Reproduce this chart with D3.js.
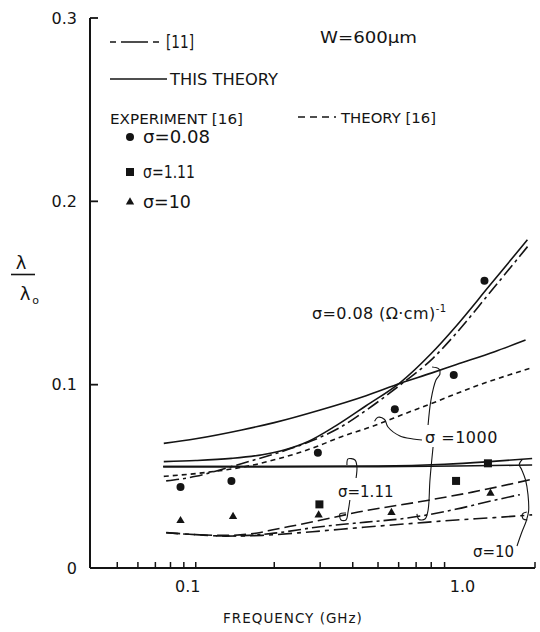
<!DOCTYPE html>
<html>
<head>
<meta charset="utf-8">
<script src="https://cdn.jsdelivr.net/npm/d3@7"></script>
<style>
  html, body { margin: 0; padding: 0; background: #fff; }
  svg { display: block; }
  text { font-family: "DejaVu Sans", sans-serif; fill: #141414; }
</style>
</head>
<body>
<svg id="chart" width="540" height="632"></svg>
<script>
// ---- axis ticks -------------------------------------------------------
const freqTicks = [0.05, 0.06, 0.07, 0.08, 0.09, 0.1, 0.2, 0.3, 0.4, 0.5, 0.6, 0.7, 0.8, 0.9, 2];
const freqLabelValues = [0.1, 1.0];
const freqLabelText = ["0.1", "1.0"];
const ratioTicks = [0.1, 0.2, 0.3];
const ratioLabelValues = [0, 0.1, 0.2, 0.3];
const ratioLabelText = ["0", "0.1", "0.2", "0.3"];

// ---- theory curves: [frequency GHz, lambda/lambda0] -------------------
// sigma = 0.08 (ohm cm)^-1
const s008ThisTheory = [[0.0754,0.058],[0.1,0.0586],[0.137,0.0598],[0.18,0.0618],[0.22,0.0645],[0.27,0.069],[0.344,0.0775],[0.45,0.0885],[0.61,0.1013],[0.8,0.117],[0.99,0.1315],[1.33,0.1535],[1.87,0.179]];
const s008Ref11 = [[0.077,0.0475],[0.1,0.050],[0.119,0.0528],[0.137,0.0553],[0.17,0.0592],[0.214,0.0635],[0.28,0.0695],[0.353,0.0762],[0.45,0.086],[0.61,0.1],[0.8,0.1135],[0.99,0.1275],[1.33,0.1495],[1.89,0.176]];
// sigma = 1000
const s1000ThisTheory = [[0.0754,0.068],[0.1,0.0705],[0.15,0.0753],[0.2,0.0793],[0.3,0.0862],[0.45,0.094],[0.61,0.1008],[0.8,0.1063],[1.0,0.111],[1.4,0.118],[1.84,0.1243]];
const s1000Theory16 = [[0.0754,0.050],[0.1,0.0515],[0.137,0.054],[0.17,0.0565],[0.2,0.059],[0.25,0.063],[0.3,0.067],[0.36,0.0715],[0.47,0.077],[0.64,0.0844],[0.855,0.0913],[1.15,0.0985],[1.92,0.109]];
const s1000Ref11 = [[0.12,0.0175],[0.16,0.0178],[0.2,0.019],[0.3,0.0225],[0.45,0.025],[0.637,0.0271],[0.99,0.032],[1.37,0.0367],[1.75,0.040]];
// sigma = 1.11
const s111ThisTheory = [[0.075,0.0553],[0.2,0.0553],[0.5,0.0556],[0.9,0.0566],[1.3,0.0579],[1.95,0.0597]];
const s111Ref11 = [[0.077,0.0192],[0.1,0.0182],[0.13,0.0178],[0.17,0.019],[0.2,0.021],[0.3,0.026],[0.42,0.0305],[0.74,0.0364],[1.15,0.0414],[1.95,0.0484]];
// sigma = 10
const s10ThisTheory = [[0.075,0.0553],[0.5,0.0553],[1.0,0.0556],[1.95,0.0562]];
const s10Ref11 = [[0.077,0.0193],[0.1,0.0182],[0.13,0.0174],[0.18,0.0178],[0.28,0.0198],[0.44,0.0222],[0.7,0.0245],[1.0,0.0262],[1.4,0.0275],[1.95,0.029]];

// ---- experiment [16] ---------------------------------------------------
const expS008 = [[0.0874,0.0442],[0.137,0.0475],[0.294,0.0629],[0.58,0.0866],[0.976,0.1053],[1.28,0.1567]];
const expS111 = [[0.298,0.0347],[0.996,0.0475],[1.32,0.0571]];
const expS10  = [[0.0874,0.0258],[0.139,0.028],[0.296,0.0289],[0.563,0.0302],[1.35,0.0407]];

// ---- leader lines for the curve labels (data units) -------------------
const leader1000a = [[0.737,0.0698],[0.681,0.0704],[0.607,0.072],[0.546,0.0769],[0.53,0.081],[0.50,0.0822],[0.485,0.080]];
const leader1000b = [[0.778,0.078],[0.798,0.0916],[0.834,0.1025],[0.864,0.1058],[0.857,0.1085],[0.806,0.1096]];
const leader1000c = [[0.813,0.066],[0.791,0.048],[0.778,0.0316],[0.757,0.0267],[0.718,0.0265],[0.705,0.0295]];
const leader111a = [[0.412,0.0491],[0.415,0.0551],[0.408,0.0589],[0.3836,0.0595],[0.380,0.0562]];
const leader111b = [[0.390,0.0371],[0.3836,0.0305],[0.3769,0.0262],[0.3606,0.0262],[0.3574,0.0295],[0.3769,0.030]];
const leader10 = [[1.706,0.012],[1.78,0.0195],[1.85,0.0255],[1.89,0.031],[1.88,0.040],[1.84,0.048],[1.78,0.0535],[1.74,0.0565],[1.79,0.0592]];
const leader10hook = [[1.87,0.0262],[1.80,0.0268],[1.79,0.0295],[1.86,0.0305]];

// ---- scales -------------------------------------------------------------
const x = d3.scaleLog().domain([0.04, 2]).range([92, 535]);
const y = d3.scaleLinear().domain([0, 0.3]).range([568, 18]);
const yAxisX = 90;

const svg = d3.select("#chart");
const ink = "#141414";

// ---- axes ---------------------------------------------------------------
const axes = svg.append("g").attr("stroke", ink).attr("fill", "none");
axes.append("line").attr("x1", yAxisX).attr("x2", x(2)).attr("y1", y(0)).attr("y2", y(0)).attr("stroke-width", 2);
axes.append("line").attr("x1", yAxisX).attr("x2", yAxisX).attr("y1", y(0)).attr("y2", y(0.3)).attr("stroke-width", 2);
axes.selectAll(".xt").data(freqTicks).join("line")
  .attr("x1", d => x(d)).attr("x2", d => x(d))
  .attr("y1", y(0)).attr("y2", y(0) - 6).attr("stroke-width", 1.5);
axes.selectAll(".yt").data(ratioTicks).join("line")
  .attr("x1", yAxisX).attr("x2", yAxisX + 8)
  .attr("y1", d => y(d)).attr("y2", d => y(d)).attr("stroke-width", 1.8);

svg.selectAll(".xl").data(freqLabelValues).join("text")
  .attr("x", d => x(d)).attr("dx", (d, i) => i === 0 ? -8 : 6)
  .attr("y", 592).attr("text-anchor", "middle")
  .attr("font-size", 16).text((d, i) => freqLabelText[i]);
svg.selectAll(".yl").data(ratioLabelValues).join("text")
  .attr("x", 77).attr("y", d => y(d)).attr("dy", "0.36em")
  .attr("text-anchor", "end").attr("font-size", 16).text((d, i) => ratioLabelText[i]);

svg.append("text").attr("x", 293).attr("y", 623).attr("text-anchor", "middle")
  .attr("font-size", 13.5).attr("letter-spacing", 1).text("FREQUENCY  (GHz)");

// y title: lambda over lambda0
const yt = svg.append("g");
yt.append("text").attr("x", 21).attr("y", 269).attr("text-anchor", "middle").attr("font-size", 18).text("λ");
yt.append("line").attr("x1", 11).attr("x2", 35).attr("y1", 274.5).attr("y2", 274.5).attr("stroke", ink).attr("stroke-width", 1.6);
yt.append("text").attr("x", 25).attr("y", 300).attr("text-anchor", "middle").attr("font-size", 18).text("λ");
yt.append("text").attr("x", 35.5).attr("y", 304).attr("text-anchor", "middle").attr("font-size", 11).text("o");

// ---- curves -------------------------------------------------------------
const line = d3.line().x(d => x(d[0])).y(d => y(d[1])).curve(d3.curveMonotoneX);
const dashRef11 = "13,4,3,4";
const dashTheory16 = "5,4";
const curves = [
  { data: s1000ThisTheory, dash: null },
  { data: s008ThisTheory, dash: null },
  { data: s111ThisTheory, dash: null },
  { data: s10ThisTheory, dash: null },
  { data: s008Ref11, dash: dashRef11 },
  { data: s1000Theory16, dash: dashTheory16 },
  { data: s111Ref11, dash: "12,5" },
  { data: s1000Ref11, dash: dashRef11 },
  { data: s10Ref11, dash: "14,5,4,5" }
];
svg.append("g").selectAll("path").data(curves).join("path")
  .attr("d", d => line(d.data))
  .attr("fill", "none").attr("stroke", ink).attr("stroke-width", 1.6)
  .attr("stroke-dasharray", d => d.dash);

// ---- leaders --------------------------------------------------------------
const leaderLine = d3.line().x(d => x(d[0])).y(d => y(d[1])).curve(d3.curveCatmullRom.alpha(0.5));
svg.append("g").selectAll("path")
  .data([leader1000a, leader1000b, leader1000c, leader111a, leader111b, leader10, leader10hook])
  .join("path").attr("d", leaderLine)
  .attr("fill", "none").attr("stroke", ink).attr("stroke-width", 1.1);

// ---- experiment markers -------------------------------------------------
const marks = svg.append("g").attr("fill", ink);
marks.selectAll(".c").data(expS008).join("circle")
  .attr("cx", d => x(d[0])).attr("cy", d => y(d[1])).attr("r", 4);
marks.selectAll(".s").data(expS111).join("rect")
  .attr("x", d => x(d[0]) - 4).attr("y", d => y(d[1]) - 4).attr("width", 8).attr("height", 8);
const tri = d3.symbol(d3.symbolTriangle, 30);
marks.selectAll(".t").data(expS10).join("path")
  .attr("transform", d => `translate(${x(d[0])},${y(d[1])})`).attr("d", tri);

// ---- curve labels -------------------------------------------------------
const lab = svg.append("g").attr("font-size", 16);
const t008 = lab.append("text").attr("x", 312).attr("y", 319).attr("letter-spacing", 0.4);
t008.append("tspan").text("σ=0.08 (Ω·cm)");
t008.append("tspan").attr("font-size", 10).attr("dy", -7).text("-1");
lab.append("text").attr("x", 425).attr("y", 443).attr("letter-spacing", 0.5).text("σ =1000");
lab.append("text").attr("x", 338).attr("y", 497).attr("font-size", 15).text("σ=1.11");
lab.append("text").attr("x", 473).attr("y", 557).attr("font-size", 15).text("σ=10");

// ---- legend -------------------------------------------------------------
const lg = svg.append("g");
lg.append("line").attr("x1", 110).attr("x2", 163).attr("y1", 42).attr("y2", 42)
  .attr("stroke", ink).attr("stroke-width", 1.6).attr("stroke-dasharray", "6,5,27,5,6");
lg.append("text").attr("x", 166).attr("y", 48).attr("font-size", 17)
  .attr("textLength", 28).attr("lengthAdjust", "spacingAndGlyphs").text("[11]");
lg.append("line").attr("x1", 110).attr("x2", 167).attr("y1", 79).attr("y2", 79)
  .attr("stroke", ink).attr("stroke-width", 1.6);
lg.append("text").attr("x", 170).attr("y", 85).attr("font-size", 16)
  .attr("textLength", 108).attr("lengthAdjust", "spacingAndGlyphs").text("THIS THEORY");
lg.append("text").attr("x", 110).attr("y", 124).attr("font-size", 14.5)
  .attr("textLength", 133).attr("lengthAdjust", "spacingAndGlyphs").text("EXPERIMENT [16]");
lg.append("circle").attr("cx", 130).attr("cy", 137).attr("r", 4).attr("fill", ink);
lg.append("rect").attr("x", 126).attr("y", 168).attr("width", 8).attr("height", 8).attr("fill", ink);
lg.append("path").attr("transform", "translate(130,202)").attr("d", tri).attr("fill", ink);
lg.append("text").attr("x", 143).attr("y", 143).attr("font-size", 17)
  .attr("textLength", 67).attr("lengthAdjust", "spacingAndGlyphs").text("σ=0.08");
lg.append("text").attr("x", 143).attr("y", 178).attr("font-size", 17)
  .attr("textLength", 52).attr("lengthAdjust", "spacingAndGlyphs").text("σ=1.11");
lg.append("text").attr("x", 143).attr("y", 208).attr("font-size", 17)
  .attr("textLength", 48).attr("lengthAdjust", "spacingAndGlyphs").text("σ=10");
lg.append("text").attr("x", 320).attr("y", 43).attr("font-size", 16)
  .attr("textLength", 97).attr("lengthAdjust", "spacingAndGlyphs").text("W=600μm");
lg.append("line").attr("x1", 298).attr("x2", 336).attr("y1", 117).attr("y2", 117)
  .attr("stroke", ink).attr("stroke-width", 1.4).attr("stroke-dasharray", "7,5");
lg.append("text").attr("x", 341).attr("y", 122.5).attr("font-size", 14.5)
  .attr("textLength", 95).attr("lengthAdjust", "spacingAndGlyphs").text("THEORY [16]");
</script>
</body>
</html>
